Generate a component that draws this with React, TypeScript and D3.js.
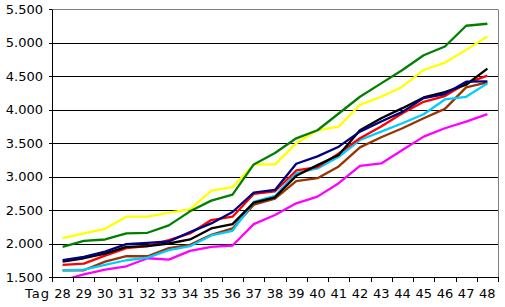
import React from "react";
import * as d3 from "d3";

const categories = ["28","29","30","31","32","33","34","35","36","37","38","39","40","41","42","43","44","45","46","47","48"];
const yTicks = [1500, 2000, 2500, 3000, 3500, 4000, 4500, 5000, 5500];

const green = [1950,2040,2060,2150,2160,2270,2480,2640,2730,3180,3350,3570,3690,3940,4190,4390,4590,4810,4940,5250,5280];
const yellow = [2080,2150,2220,2400,2400,2460,2510,2790,2840,3180,3180,3495,3690,3745,4070,4190,4340,4590,4700,4890,5090];
const navy = [1750,1800,1880,1990,2010,2030,2170,2300,2470,2760,2800,3190,3300,3445,3670,3820,3965,4170,4230,4415,4420];
const black = [1730,1780,1850,1950,1960,2000,2060,2225,2290,2610,2690,3010,3170,3320,3690,3870,4020,4180,4260,4370,4610];
const red = [1680,1700,1820,1930,1960,2050,2150,2350,2400,2740,2780,3090,3140,3345,3570,3745,3945,4115,4200,4390,4505];
const cyan = [1600,1610,1680,1750,1790,1900,1960,2120,2190,2620,2710,3050,3120,3295,3545,3670,3795,3930,4150,4190,4390];
const brown = [1600,1600,1730,1810,1810,1930,1980,2130,2225,2580,2670,2930,2975,3150,3435,3585,3720,3870,4010,4330,4405];
const magenta = [1450,1540,1610,1660,1780,1760,1890,1950,1970,2290,2425,2600,2700,2900,3160,3195,3395,3595,3720,3820,3930];

const seriesList = [
  { name: "magenta", values: magenta, color: "#FF00FF" },
  { name: "brown", values: brown, color: "#993300" },
  { name: "cyan", values: cyan, color: "#00CCFF" },
  { name: "red", values: red, color: "#FF0000" },
  { name: "black", values: black, color: "#000000" },
  { name: "navy", values: navy, color: "#000080" },
  { name: "yellow", values: yellow, color: "#FFFF00" },
  { name: "green", values: green, color: "#008000" },
];

const W = 505, H = 307;
const L = 52, R = 498, T = 9, B = 277;
const font = "'DejaVu Sans', Verdana, sans-serif";

const locale = d3.formatLocale({ decimal: ",", thousands: ".", grouping: [3], currency: ["", ""] });
const fmt = locale.format(",d");

export default function App() {
  const x = d3.scaleBand<string>().domain(categories).range([L, R]).padding(0);
  const y = d3.scaleLinear().domain([1500, 5500]).range([B, T]);
  const cx = (c: string) => (x(c) as number) + x.bandwidth() / 2;
  const line = d3.line<number>()
    .x((_, i) => cx(categories[i]))
    .y((v) => y(v));
  const crisp = (v: number) => Math.round(v) + 0.5;

  return (
    <svg width={W} height={H} style={{ position: "absolute", left: 0, top: 0, background: "#fff" }}>
      <defs>
        <clipPath id="plot">
          <rect x={L} y={T} width={R - L} height={B - T} />
        </clipPath>
      </defs>
      {yTicks.slice(1, -1).map((t) => (
        <line key={t} x1={L} x2={R} y1={crisp(y(t))} y2={crisp(y(t))} stroke="#000" strokeWidth={1} />
      ))}
      <line x1={L} x2={R} y1={crisp(y(5500))} y2={crisp(y(5500))} stroke="#808080" />
      <line x1={crisp(R)} x2={crisp(R)} y1={crisp(T)} y2={crisp(B)} stroke="#808080" />
      <g clipPath="url(#plot)">
        {seriesList.map((s) => (
          <path key={s.name} d={line(s.values) || ""} fill="none" stroke={s.color} strokeWidth={2.3} strokeLinejoin="round" />
        ))}
      </g>
      <line x1={crisp(L)} x2={crisp(L)} y1={crisp(T)} y2={crisp(B)} stroke="#000" />
      <line x1={L - 3} x2={R} y1={crisp(B)} y2={crisp(B)} stroke="#000" />
      {yTicks.map((t) => (
        <g key={t}>
          <line x1={L - 3} x2={L} y1={crisp(y(t))} y2={crisp(y(t))} stroke="#000" />
          <text x={43} y={y(t)} dy="0.36em" textAnchor="end" fontFamily={font} fontSize={13} fill="#000">
            {fmt(t)}
          </text>
        </g>
      ))}
      {categories.map((c, i) => (
        <line key={"t" + c} x1={crisp(x(c) as number)} x2={crisp(x(c) as number)} y1={B} y2={B + 5} stroke="#000" />
      ))}
      <line x1={crisp(R)} x2={crisp(R)} y1={B} y2={B + 5} stroke="#000" />
      {categories.map((c) => (
        <text key={"l" + c} x={cx(c)} y={298} textAnchor="middle" fontFamily={font} fontSize={13} fill="#000">
          {c}
        </text>
      ))}
      <text x={50} y={298} textAnchor="end" fontFamily={font} fontSize={13} fill="#000" letterSpacing={1}>
        Tag
      </text>
    </svg>
  );
}
